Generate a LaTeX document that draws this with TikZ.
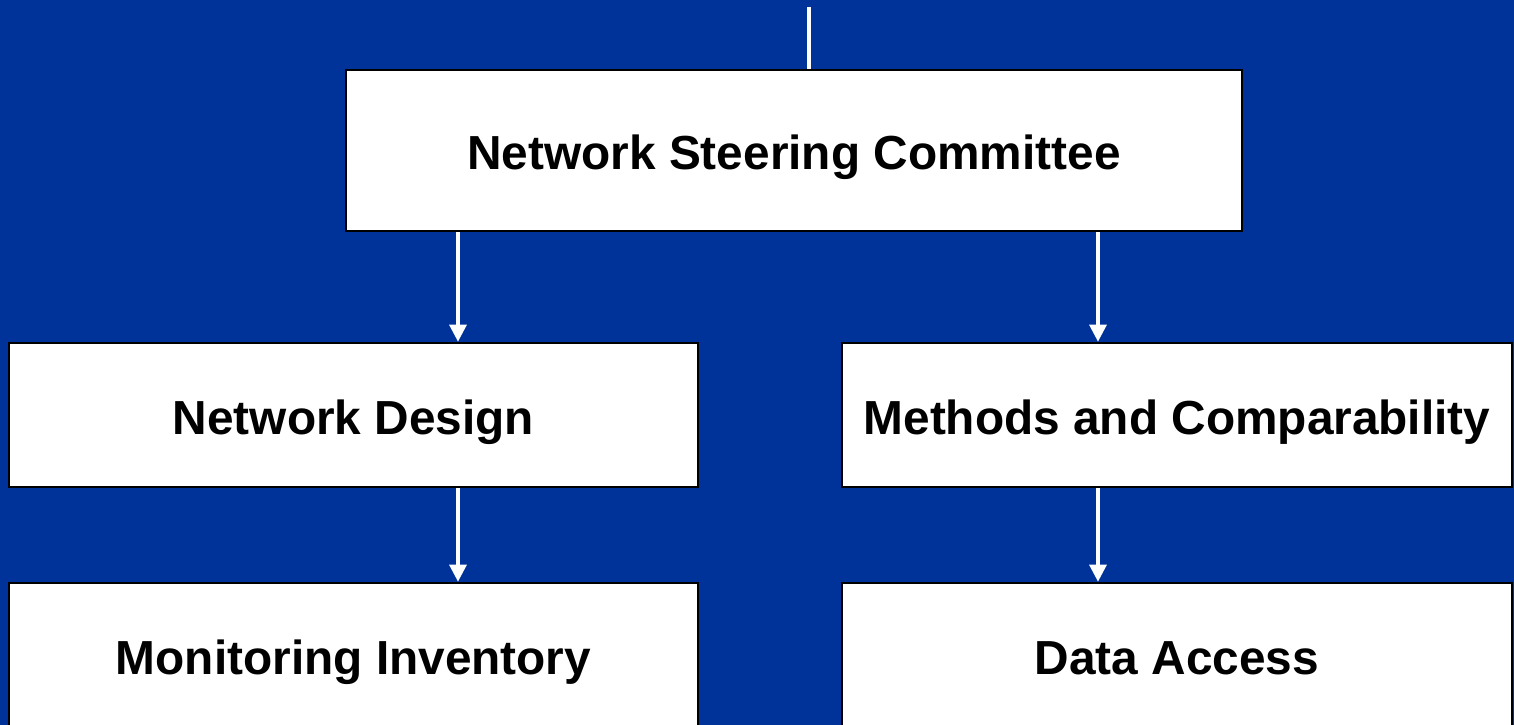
\documentclass[tikz,border=0pt]{standalone}
\usepackage{fontspec}
\setmainfont{Liberation Sans}
\usetikzlibrary{arrows.meta}
\definecolor{slideblue}{RGB}{0,51,153}

\begin{document}
\begin{tikzpicture}[x=1cm,y=1cm,
                      box/.style={draw=black,fill=white,line width=0.75pt,inner sep=0pt,
                        text height=12pt,text depth=1pt,
                        font=\fontsize{13.6}{16}\selectfont\bfseries},
                      link/.style={draw=white,line width=0.9pt,-{Triangle[width=0.17cm,length=0.17cm]}}]
  \fill[slideblue] (0,0) rectangle (15.14,-7.25);
  \useasboundingbox (0,0) rectangle (15.14,-7.25);

  \node(nsc)[box,minimum width=8.96cm,minimum height=1.61cm] at (7.94,-1.505) {Network Steering Committee};
  \node(design)[box,minimum width=6.89cm,minimum height=1.44cm] at (3.535,-4.15) {Network Design};
  \node(methods)[box,minimum width=6.70cm,minimum height=1.44cm] at (11.77,-4.15) {Methods and Comparability};
  \node(inventory)[box,minimum width=6.89cm,minimum height=1.44cm] at (3.535,-6.55) {Monitoring Inventory};
  \node(access)[box,minimum width=6.70cm,minimum height=1.44cm] at (11.77,-6.55) {Data Access};

  \coordinate(top) at (8.09,-0.07);
  \coordinate(lx) at (4.58,0);
  \coordinate(rx) at (10.98,0);

  % line coming in from above
  \draw[draw=white,line width=0.9pt] (top) -- (nsc.north -| top);

  % loop over the parent/child pairs
  \foreach \From/\To/\X in {nsc/design/lx,nsc/methods/rx,design/inventory/lx,methods/access/rx} {%
    \path[link] (\From.south -| \X) -- (\To.north -| \X);
  }

\end{tikzpicture}
\end{document}
